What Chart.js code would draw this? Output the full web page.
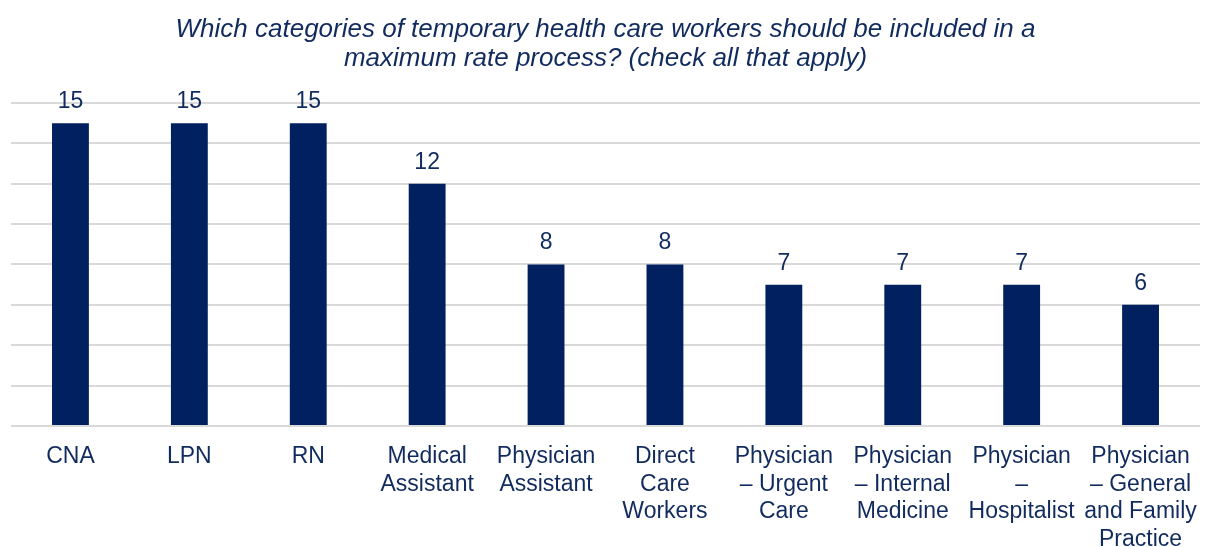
<!DOCTYPE html>
<html>
<head>
<meta charset="utf-8">
<script src="https://cdn.jsdelivr.net/npm/chart.js@4"></script>
<style>
  html, body { margin: 0; padding: 0; background: #fff; }
  #wrap { width: 1208px; height: 547px; }
</style>
</head>
<body>
<div id="wrap"><canvas id="barChart"></canvas></div>
<script>
const categories = [
    'CNA', 'LPN', 'RN',
    ['Medical', 'Assistant'],
    ['Physician', 'Assistant'],
    ['Direct', 'Care', 'Workers'],
    ['Physician', '– Urgent', 'Care'],
    ['Physician', '– Internal', 'Medicine'],
    ['Physician', '–', 'Hospitalist'],
    ['Physician', '– General', 'and Family', 'Practice']
];
const responses = [15, 15, 15, 12, 8, 8, 7, 7, 7, 6];
const titleLines = [
    'Which categories of temporary health care workers should be included in a',
    'maximum rate process? (check all that apply)'
];

const navy = '#002060';
const textColor = '#112B5E';
const fontFamily = '"Liberation Sans", Arial, sans-serif';

// value labels above each bar
const barValues = {
    id: 'barValues',
    afterDatasetsDraw(chart) {
        const ctx = chart.ctx;
        ctx.save();
        ctx.font = '23px ' + fontFamily;
        ctx.fillStyle = textColor;
        ctx.textAlign = 'center';
        ctx.textBaseline = 'alphabetic';
        chart.getDatasetMeta(0).data.forEach((bar, i) => {
            ctx.fillText(String(responses[i]), bar.x, bar.y - 15);
        });
        ctx.restore();
    }
};

document.addEventListener('DOMContentLoaded', function() {
    const ctxBar = document.getElementById('barChart');
    new Chart(ctxBar, {
        type: 'bar',
        data: {
            labels: categories,
            datasets: [{
                data: responses,
                backgroundColor: navy,
                borderWidth: 0,
                barPercentage: 0.31,
                categoryPercentage: 1
            }]
        },
        options: {
            responsive: true,
            maintainAspectRatio: false,
            animation: false,
            layout: { padding: { left: 11, right: 8, top: 0, bottom: 0 } },
            plugins: {
                legend: { display: false },
                tooltip: { enabled: false },
                title: {
                    display: true,
                    text: titleLines,
                    color: textColor,
                    font: { family: fontFamily, size: 26, style: 'italic', weight: 'normal', lineHeight: 1.115 },
                    padding: { top: 15, bottom: 30 }
                }
            },
            scales: {
                y: {
                    min: 0,
                    max: 16,
                    ticks: { display: false, stepSize: 2 },
                    border: { display: false },
                    grid: { color: '#d9d9d9', lineWidth: 2, drawTicks: false }
                },
                x: {
                    grid: { display: false },
                    border: { display: false },
                    afterFit(scale) { scale.height = 121; },
                    ticks: {
                        color: textColor,
                        maxRotation: 0,
                        autoSkip: false,
                        padding: 9,
                        font: { family: fontFamily, size: 23, lineHeight: 1.2 }
                    }
                }
            }
        },
        plugins: [barValues]
    });
});
</script>
</body>
</html>
